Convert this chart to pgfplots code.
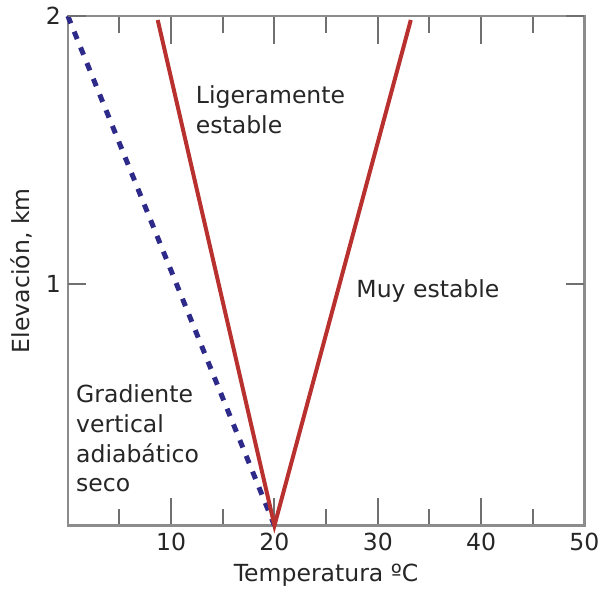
\documentclass[border=0pt]{standalone}
\usepackage{fontspec}
\setmainfont{DejaVu Sans}
\usepackage{pgfplots}
\pgfplotsset{compat=1.18}
\definecolor{axgray}{HTML}{8C8C8C}
\definecolor{tickgray}{HTML}{707070}
\definecolor{lred}{HTML}{B8312F}
\definecolor{lblue}{HTML}{2E2A8A}
\definecolor{txt}{HTML}{262626}
\newcommand{\chartfont}{\fontsize{11.8}{15}\selectfont}
\begin{document}
\begin{tikzpicture}[font=\chartfont]
\pgfplotsset{
  base/.style={
    scale only axis, width=259pt, height=255.5pt,
    xmin=0, xmax=50, ymin=0.1, ymax=2,
    clip=false,
    tick align=inside,
    /pgf/number format/assume math mode=true,
    tick label style={font=\chartfont, text=txt},
    every axis label/.append style={font=\chartfont, text=txt},
    every tick/.style={tickgray, line width=1pt},
  }
}
\begin{axis}[base,
  axis line style={axgray, line width=1.3pt},
  xtick={10,20,30,40,50},
  minor xtick={5,15,25,35,45},
  ytick=\empty,
  major tick length=14pt, minor tick length=8.5pt,
  xlabel={Temperatura ºC},
]
\path (rel axis cs:-0.1313,-0.135) rectangle (rel axis cs:1.0386,1.0313);
\addplot[lblue, line width=2.5pt, dash pattern=on 4pt off 4.5pt] coordinates {(0,2) (20,0.1)};
\addplot[lred, line width=2pt] coordinates {(8.7,1.985) (20,0.1) (33.2,1.985)};
\node[anchor=north west, align=left, inner sep=0pt, text=txt] at (axis cs:12.36,1.743) {Ligeramente\\estable};
\node[anchor=base west, inner sep=0pt, text=txt] at (axis cs:27.9,0.952) {Muy estable};
\node[anchor=north west, align=left, inner sep=0pt, text=txt] at (axis cs:0.77,0.628) {Gradiente\\vertical\\adiabático\\seco};
\end{axis}
\begin{axis}[base,
  axis line style={draw=none},
  xtick=\empty,
  ytick={1,2},
  major tick length=9pt,
  ylabel={Elevación, km},
]
\end{axis}
\end{tikzpicture}
\end{document}
